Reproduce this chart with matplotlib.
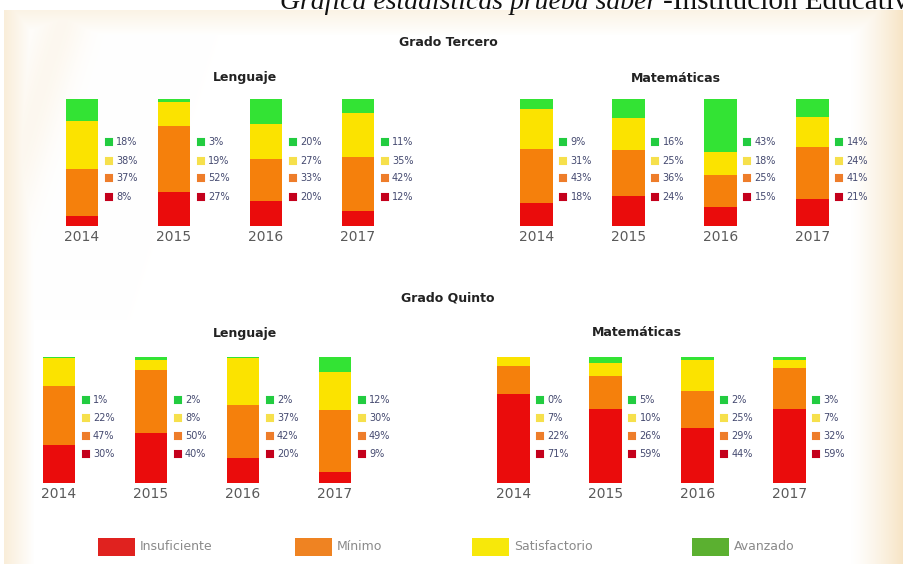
import numpy as np
import matplotlib.pyplot as plt
from matplotlib.patches import Rectangle

W, H = 904, 564

years = ['2014', '2015', '2016', '2017']
levels = ['Insuficiente', 'Mínimo', 'Satisfactorio', 'Avanzado']

# percentages per year, order: insuficiente, minimo, satisfactorio, avanzado
tercero_lenguaje = {
    'Insuficiente': [8, 27, 20, 12],
    'Mínimo': [37, 52, 33, 42],
    'Satisfactorio': [38, 19, 27, 35],
    'Avanzado': [18, 3, 20, 11],
}
tercero_matematicas = {
    'Insuficiente': [18, 24, 15, 21],
    'Mínimo': [43, 36, 25, 41],
    'Satisfactorio': [31, 25, 18, 24],
    'Avanzado': [9, 16, 43, 14],
}
quinto_lenguaje = {
    'Insuficiente': [30, 40, 20, 9],
    'Mínimo': [47, 50, 42, 49],
    'Satisfactorio': [22, 8, 37, 30],
    'Avanzado': [1, 2, 2, 12],
}
quinto_matematicas = {
    'Insuficiente': [71, 59, 44, 59],
    'Mínimo': [22, 26, 29, 32],
    'Satisfactorio': [7, 10, 25, 7],
    'Avanzado': [0, 5, 2, 3],
}

bar_colors = {'Insuficiente': '#ea0c0c', 'Mínimo': '#f5800c',
              'Satisfactorio': '#fbe300', 'Avanzado': '#33e334'}
dot_colors = {'Insuficiente': '#c4001c', 'Mínimo': '#ee7d2a',
              'Satisfactorio': '#f6e04c', 'Avanzado': '#22cc40'}
key_colors = {'Insuficiente': '#e0221f', 'Mínimo': '#ef8322',
              'Satisfactorio': '#f7e80a', 'Avanzado': '#5bb030'}

fig = plt.figure(figsize=(W / 100, H / 100), dpi=100)

# cream backdrop with a white centre
yy, xx = np.mgrid[0:H, 0:W]
cream = np.array([246, 226, 192]) / 255
w = np.clip(1 - (xx - 4) / 30, 0, 1) * 0.6
w = np.maximum(w, np.clip((xx - 850) / 54, 0, 1) ** 1.3 * 0.95)
w = np.maximum(w, np.clip(1 - (yy - 10) / 25, 0, 1) * 0.4)
diag = np.exp(-((xx * 0.8 + yy * 0.25 - 55) / 22) ** 2) * (yy < 320) * 0.25
w = np.maximum(w, diag)
img = 1 - w[..., None] * (1 - cream)
img[:10, :] = 1
img[:, :4] = 1
bg = fig.add_axes([0, 0, 1, 1])
bg.imshow(img, aspect='auto', interpolation='bilinear')
bg.axis('off')


def panel(first_center, y_bottom, y_top, data):
    ax = fig.add_axes([(first_center - 46) / W, (H - y_bottom) / H,
                       368 / W, (y_bottom - y_top) / H])
    ax.set_xlim(-0.5, 3.5)
    ax.set_ylim(0, 100)
    ax.axis('off')
    x = np.arange(len(years))
    bottom = np.zeros(len(years))
    for lvl in levels:
        vals = np.array(data[lvl], dtype=float)
        ax.bar(x, vals, 0.35, bottom=bottom, color=bar_colors[lvl],
               edgecolor='none')
        bottom += vals
    rows = [23, 37.5, 51.5, 66]
    for i, yr in enumerate(years):
        ax.text(i, -9, yr, ha='center', va='center', fontsize=10,
                color='#5a5a5a', clip_on=False)
        for lvl, ry in zip(levels, rows):
            ax.plot(i + 0.29, ry, marker='s', ms=5, color=dot_colors[lvl],
                    mew=1.5, mec=dot_colors[lvl], clip_on=False)
            ax.text(i + 0.37, ry, f'{data[lvl][i]}%', ha='left', va='center',
                    fontsize=7, color='#454a70', clip_on=False)
    return ax


panel(82, 226, 99, tercero_lenguaje)
panel(536.5, 226, 99, tercero_matematicas)
panel(59, 483, 357, quinto_lenguaje)
panel(513.5, 483, 357, quinto_matematicas)

head = dict(fontsize=9, fontweight='bold', color='#222222',
            ha='center', va='center')
fig.text(448 / W, 1 - 43 / H, 'Grado Tercero', **head)
fig.text(245 / W, 1 - 78 / H, 'Lenguaje', **head)
fig.text(676 / W, 1 - 78 / H, 'Matemáticas', **head)
fig.text(448 / W, 1 - 298 / H, 'Grado Quinto', **head)
fig.text(245 / W, 1 - 333 / H, 'Lenguaje', **head)
fig.text(637 / W, 1 - 333 / H, 'Matemáticas', **head)

# colour key along the bottom
key_x = [98, 295, 472, 692]
for lvl, kx in zip(levels, key_x):
    fig.add_artist(Rectangle((kx / W, 1 - 556 / H), 37 / W, 18 / H,
                             transform=fig.transFigure,
                             color=key_colors[lvl], lw=0))
    fig.text((kx + 42) / W, 1 - 547 / H, lvl, fontsize=9, color='#8a8a8a',
             ha='left', va='center')

# caption line, cut by the top edge
cap1 = fig.text(280 / W, 1 - 9 / H, 'Gráfica estadísticas prueba saber',
                family='Liberation Serif', style='italic', fontsize=20,
                va='baseline', color='#111111')
fig.canvas.draw()
bb = cap1.get_window_extent()
fig.text((bb.x1 + 6) / W, 1 - 9 / H, '-Institución Educativa',
         family='Liberation Serif', fontsize=21, va='baseline',
         color='#111111')

fig.savefig('out.png', dpi=100)
